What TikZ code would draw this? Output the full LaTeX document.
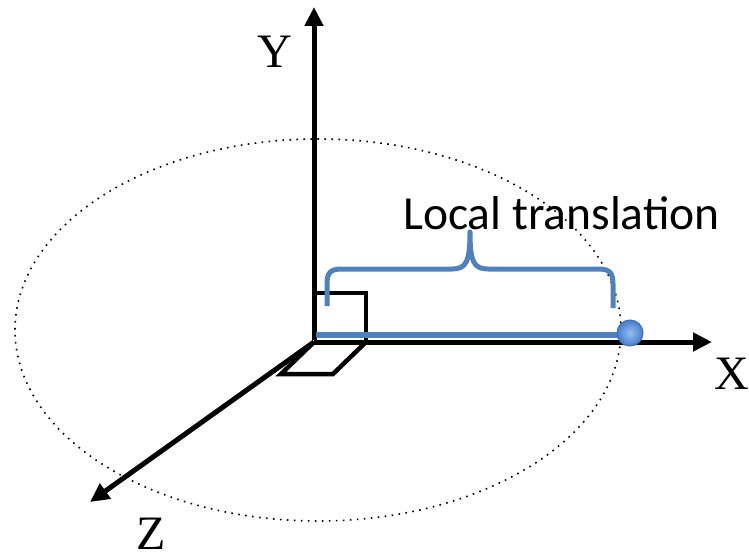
\documentclass[tikz,border=0pt]{standalone}
\usepackage{fontspec}
\setmainfont{Liberation Serif}
\newfontfamily\calib{Carlito}
\usetikzlibrary{arrows.meta}
\definecolor{bblue}{RGB}{79,129,189}
\definecolor{ballin}{RGB}{150,190,240}
\definecolor{ballout}{RGB}{70,125,205}
\definecolor{balledge}{RGB}{60,110,185}
\tikzset{
  axisline/.style={line width=5pt,-{Triangle[length=19pt,width=18pt]}},
  anglemark/.style={line width=4.5pt,line join=miter},
  bluebar/.style={line width=5.5pt,bblue},
  bracestyle/.style={line width=5pt,bblue,line join=round},
  orbit/.style={line width=1.6pt,dash pattern=on 1.6pt off 5.4pt,black},
  axlabel/.style={font=\fontsize{48}{52}\selectfont,inner sep=0pt},
}
\begin{document}
\begin{tikzpicture}[x=1pt,y=-1pt]
\useasboundingbox (0,0) rectangle (749,556);
% orbit
\draw[orbit] (318,330) ellipse [x radius=303pt, y radius=191pt];
% coordinates
\coordinate (O) at (314,342);
\coordinate (Ytip) at (314,7);
\coordinate (Xtip) at (712,342);
\coordinate (Ztip) at (90,502);
% right-angle marks
\coordinate (sqa) at (314,293);
\coordinate (sqb) at (366,293);
\coordinate (sqc) at (366,342);
\draw[anglemark] (sqa) -- (sqb) -- (sqc);
\coordinate (pa) at (281,374);
\coordinate (pb) at (333,374);
\coordinate (pc) at (366,342);
\draw[anglemark] (O) -- (pa) -- (pb) -- (pc);
% axes
\draw[axisline] (O) -- (Xtip);
\draw[axisline] ([yshift=2.5pt]O) -- (Ytip);
\draw[axisline] (O) -- (Ztip);
% blue translation bar
\coordinate (bs) at (316,335);
\coordinate (be) at (630,335);
\draw[bluebar] (bs) -- (be);
\node[circle,minimum size=26pt,inner sep=0pt,draw=balledge,line width=1pt,
      inner color=ballin,outer color=ballout] (ball) at (630,333) {};
% brace
\draw[bracestyle] (327,306) -- (327,284) .. controls (327,272) and (331,269) .. (342,269)
  -- (452,269) .. controls (466,269) and (470,262) .. (470,232)
  .. controls (470,262) and (474,269) .. (488,269)
  -- (598,269) .. controls (609,269) and (613,272) .. (613,284) -- (613,308);
% labels
\node[axlabel] (ylab) at (275,52) {Y};
\node[axlabel] (xlab) at (732,374) {X};
\node[axlabel,anchor=base] (zlab) at (151,549) {Z};
\node[font=\calib\fontsize{47.5}{52}\selectfont,inner sep=0pt,anchor=base] (lt) at (561.5,229) {Local translation};
\end{tikzpicture}
\end{document}
